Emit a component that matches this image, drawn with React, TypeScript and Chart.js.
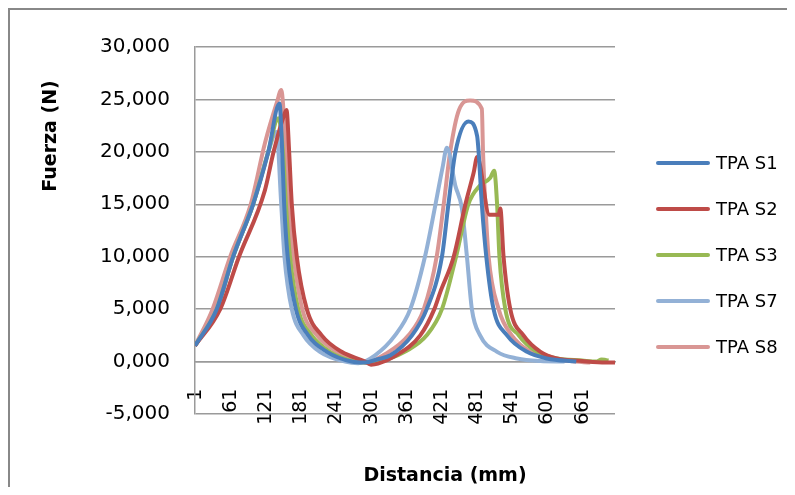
import React, { useEffect, useRef } from "react";
import { Chart, registerables } from "chart.js";

Chart.register(...registerables);

const xTickLabels = [1, 61, 121, 181, 241, 301, 361, 421, 481, 541, 601, 661];

const s1Index = [0, 37, 65, 99, 125, 144, 148, 152, 158, 172, 193, 225, 267, 290, 310, 333, 370, 395, 421, 432, 444, 466, 481, 483.5, 489, 496.6, 509, 532, 566, 600, 650];
const s1Force = [1.5, 5, 10, 15, 20, 24.6, 21, 15, 10, 5, 2.5, 0.93, 0, -0.1, 0.2, 0.6, 2.5, 5, 10, 15, 20, 22.9, 21.5, 20, 15, 10, 5, 2.5, 0.93, 0.3, 0];

const s2Index = [0, 43, 75, 119, 134, 150, 156, 160.5, 165, 173.5, 190.6, 216, 250, 290, 300, 312, 340, 384, 408, 418, 441, 461, 475, 481, 502, 517.6, 520.5, 526, 537.5, 560, 589, 617, 660, 700, 716];
const s2Force = [1.5, 5, 10, 16.3, 20, 23.2, 24.0, 20, 15, 10, 5, 2.5, 0.93, 0, -0.3, -0.2, 0.5, 2.5, 5, 6.6, 10, 15, 18, 19.5, 14.0, 14.0, 14.6, 10, 5, 2.5, 0.93, 0.3, 0.05, -0.1, -0.1];

const s3Index = [0, 37, 65, 99, 125, 142, 150, 155, 162, 176, 199, 230, 273, 298, 327, 360, 395, 421, 445, 466, 486, 503, 510, 515, 519, 529, 552, 583, 617, 660, 685, 693, 700, 705];
const s3Force = [1.5, 5, 10, 15, 20, 23.2, 20, 15, 10, 5, 2.5, 0.93, 0, -0.1, 0.2, 1.0, 2.5, 5, 10, 15, 16.8, 17.5, 18.2, 15, 10, 5, 2.5, 0.93, 0.3, 0.1, 0, 0.2, 0.15, 0.1];

const s7Index = [0, 37, 65, 99, 125, 139, 147, 152.5, 165, 185, 213, 256, 278, 307, 341, 367, 392, 410, 422, 429.5, 443.7, 455, 463.6, 472, 486, 515, 549, 589, 630];
const s7Force = [1.5, 5, 10, 15, 20, 21.9, 15, 10, 5, 2.5, 0.93, 0, -0.15, 0.6, 2.5, 5, 10, 15, 18.5, 20.4, 16.8, 14.6, 10, 5, 2.5, 0.93, 0.3, 0.05, 0];

const s8Index = [0, 30, 60, 95, 119.5, 140, 147, 154.7, 159, 168, 183, 208, 242, 284, 292, 321, 364, 390, 412, 424, 435, 450, 469, 489, 491, 495, 500.5, 517.6, 540, 571.7, 606, 640, 674];
const s8Force = [1.5, 5, 10, 15, 20.9, 24.8, 25.9, 20, 15, 10, 5, 2.5, 0.93, 0, -0.1, 0.6, 2.5, 5, 10, 15, 20, 24.0, 24.9, 24.1, 20, 15, 10, 5, 2.5, 0.93, 0.3, 0.05, -0.1];

const seriesNames = ["TPA S1", "TPA S2", "TPA S3", "TPA S7", "TPA S8"];
const seriesColors = ["#4A7EBB", "#BE4B48", "#98B954", "#93B1D6", "#D99694"];

const zip = (xs: number[], ys: number[]) => xs.map((x, i) => ({ x, y: ys[i] }));

const chartDecor = {
  id: "chartDecor",
  afterDraw(chart: any) {
    const ctx = chart.ctx;
    ctx.save();
    ctx.fillStyle = "#000";
    ctx.font = "bold 19px 'DejaVu Sans'";
    ctx.textAlign = "center";
    ctx.textBaseline = "middle";
    ctx.save();
    ctx.translate(41, 126);
    ctx.rotate(-Math.PI / 2);
    ctx.fillText("Fuerza (N)", 0, 0);
    ctx.restore();
    ctx.fillText("Distancia (mm)", 435, 466);
    ctx.font = "18px 'DejaVu Sans'";
    ctx.textAlign = "left";
    chart.data.datasets.forEach((ds: any, i: number) => {
      const y = 153 + i * 46;
      ctx.strokeStyle = ds.borderColor;
      ctx.lineWidth = 4;
      ctx.lineCap = "round";
      ctx.beginPath();
      ctx.moveTo(648, y);
      ctx.lineTo(698, y);
      ctx.stroke();
      ctx.fillText(ds.label, 706, y + 1);
    });
    ctx.restore();
  },
};

export default function App() {
  const ref = useRef<HTMLCanvasElement | null>(null);
  useEffect(() => {
    if (!ref.current) return;
    const allIdx = [s1Index, s2Index, s3Index, s7Index, s8Index];
    const allForce = [s1Force, s2Force, s3Force, s7Force, s8Force];
    const chart = new Chart(ref.current, {
      type: "line",
      data: {
        datasets: seriesNames.map((name, i) => ({
          label: name,
          data: zip(allIdx[i], allForce[i]),
          borderColor: seriesColors[i],
          backgroundColor: seriesColors[i],
          borderWidth: 4,
          pointRadius: 0,
          cubicInterpolationMode: "monotone" as const,
          fill: false,
        })),
      },
      options: {
        animation: false,
        responsive: false,
        events: [],
        layout: { padding: { left: 0, top: 29, right: 170, bottom: 73 } },
        plugins: { legend: { display: false }, tooltip: { enabled: false }, title: { display: false } },
        scales: {
          x: {
            type: "linear",
            min: 0,
            max: 716,
            position: { y: 0 } as any,
            afterBuildTicks: (s: any) => {
              s.ticks = xTickLabels.map((v) => ({ value: v }));
            },
            afterFit: (s: any) => {
              s.height = 0;
            },
            grid: { display: false, drawTicks: false },
            border: { display: true, color: "#9a9a9a", width: 1.5 },
            ticks: {
              autoSkip: false,
              minRotation: 90,
              maxRotation: 90,
              padding: 27,
              color: "#000",
              font: { family: "DejaVu Sans", size: 19 },
              callback: (v: any) => String(v),
            },
          },
          y: {
            min: -5,
            max: 30,
            afterFit: (s: any) => {
              s.width = 185;
            },
            grid: { color: "#9a9a9a", lineWidth: 1.5, drawTicks: false },
            border: { display: true, color: "#9a9a9a", width: 1.5 },
            ticks: {
              stepSize: 5,
              padding: 25,
              color: "#000",
              font: { family: "DejaVu Sans", size: 20 },
              callback: (v: any) => Number(v).toFixed(3).replace(".", ","),
            },
          },
        },
      },
      plugins: [chartDecor],
    });
    return () => chart.destroy();
  }, []);
  return (
    <div style={{ borderLeft: "2px solid #888", borderTop: "2px solid #888", width: 785, height: 477 }}>
      <canvas ref={ref} width={775} height={477} style={{ display: "block", width: 775, height: 477 }} />
    </div>
  );
}
